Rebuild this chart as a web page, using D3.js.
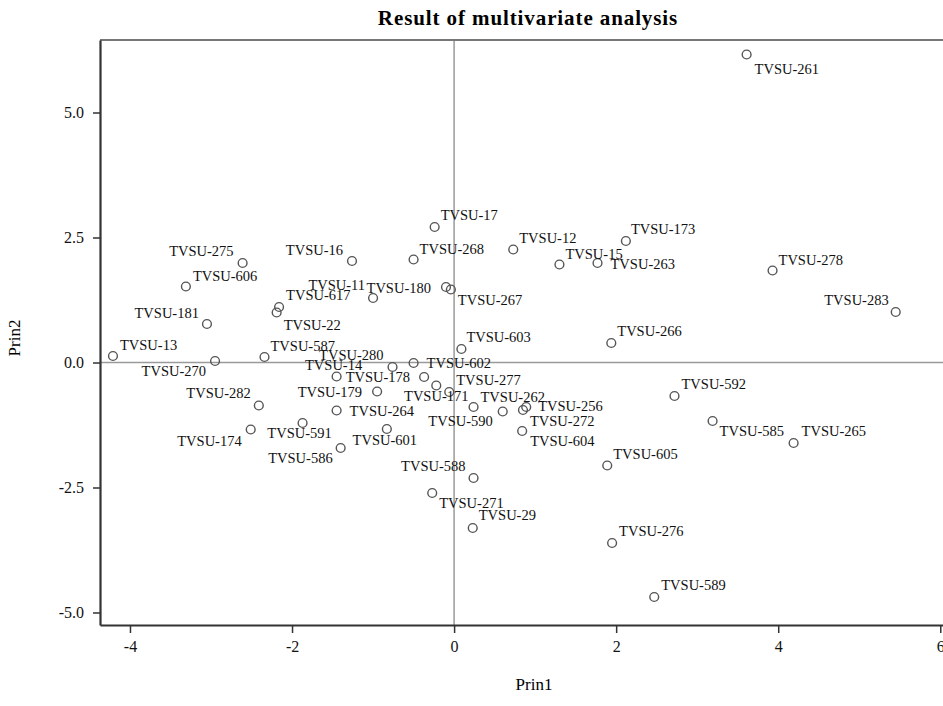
<!DOCTYPE html>
<html>
<head>
<meta charset="utf-8">
<script src="https://cdn.jsdelivr.net/npm/d3@7"></script>
<style>
  body { margin: 0; background: #fff; }
  text { font-family: "Liberation Serif", "Times New Roman", serif; }
</style>
</head>
<body>
<svg id="chart" width="943" height="706"></svg>
<script>
// scores
var names = ["TVSU-261", "TVSU-17", "TVSU-12", "TVSU-173", "TVSU-275", "TVSU-16", "TVSU-268", "TVSU-15",
  "TVSU-263", "TVSU-278", "TVSU-606", "TVSU-11", "TVSU-180", "TVSU-617", "TVSU-267", "TVSU-283",
  "TVSU-181", "TVSU-22", "TVSU-603", "TVSU-266", "TVSU-13", "TVSU-587", "TVSU-270", "TVSU-280",
  "TVSU-14", "TVSU-602", "TVSU-178", "TVSU-179", "TVSU-277", "TVSU-171", "TVSU-590", "TVSU-262",
  "TVSU-256", "TVSU-272", "TVSU-604", "TVSU-264", "TVSU-601", "TVSU-586", "TVSU-591", "TVSU-282",
  "TVSU-174", "TVSU-588", "TVSU-271", "TVSU-29", "TVSU-605", "TVSU-276", "TVSU-589", "TVSU-592",
  "TVSU-585", "TVSU-265"];
var prin1 = [3.61, -0.24, 0.73, 2.12, -2.61, -1.26, -0.50, 1.30,
  1.77, 3.93, -3.31, -1.00, -0.10, -2.16, -0.04, 5.45,
  -3.05, -2.19, 0.09, 1.94, -4.21, -2.34, -2.95, -0.76,
  -1.45, -0.50, -0.37, -0.95, -0.06, -0.22, 0.24, 0.60,
  0.89, 0.85, 0.84, -1.45, -0.83, -1.40, -1.87, -2.41,
  -2.51, 0.24, -0.27, 0.23, 1.89, 1.95, 2.47, 2.72,
  3.19, 4.19];
var prin2 = [6.16, 2.71, 2.26, 2.43, 1.99, 2.03, 2.06, 1.96,
  1.99, 1.84, 1.52, 1.29, 1.51, 1.11, 1.46, 1.01,
  0.77, 1.00, 0.27, 0.39, 0.13, 0.11, 0.03, -0.09,
  -0.28, -0.01, -0.29, -0.58, -0.59, -0.46, -0.89, -0.98,
  -0.89, -0.95, -1.37, -0.96, -1.33, -1.71, -1.21, -0.86,
  -1.34, -2.31, -2.61, -3.31, -2.06, -3.61, -4.69, -0.67,
  -1.17, -1.61];

var xTicks = [-4, -2, 0, 2, 4, 6];
var xTickLabels = ["-4", "-2", "0", "2", "4", "6"];
var yTicks = [-5, -2.5, 0, 2.5, 5];
var yTickLabels = ["-5.0", "-2.5", "0.0", "2.5", "5.0"];

// where each label sits round its point: anchor, dx, dy
var labelPos = {
  "TVSU-261": ["start", 8, 14], "TVSU-17": ["start", 6, -12], "TVSU-12": ["start", 6, -12],
  "TVSU-173": ["start", 5, -12], "TVSU-275": ["end", -9, -12], "TVSU-16": ["end", -9, -11],
  "TVSU-268": ["start", 6, -11], "TVSU-15": ["start", 6, -11], "TVSU-263": ["start", 13, 1],
  "TVSU-278": ["start", 6, -11], "TVSU-606": ["start", 7, -11], "TVSU-11": ["end", -8, -13],
  "TVSU-180": ["end", -15, 1], "TVSU-617": ["start", 7, -12], "TVSU-267": ["start", 7, 10],
  "TVSU-283": ["end", -7, -12], "TVSU-181": ["end", -8, -11], "TVSU-22": ["start", 7, 12],
  "TVSU-603": ["start", 5, -12], "TVSU-266": ["start", 6, -12], "TVSU-13": ["start", 7, -11],
  "TVSU-587": ["start", 6, -11], "TVSU-270": ["end", -9, 10], "TVSU-280": ["end", -9, -12],
  "TVSU-14": ["middle", -3, -12], "TVSU-602": ["start", 13, 0], "TVSU-178": ["end", -14, 0],
  "TVSU-179": ["end", -15, 0], "TVSU-277": ["start", 7, -12], "TVSU-171": ["middle", 0, 10],
  "TVSU-590": ["middle", -13, 14], "TVSU-262": ["middle", 10, -15], "TVSU-256": ["start", 12, -1],
  "TVSU-272": ["start", 7, 11], "TVSU-604": ["start", 8, 10], "TVSU-264": ["start", 13, 0],
  "TVSU-601": ["middle", -2, 11], "TVSU-586": ["end", -8, 10], "TVSU-591": ["middle", -3, 10],
  "TVSU-282": ["end", -8, -13], "TVSU-174": ["end", -9, 11], "TVSU-588": ["end", -8, -12],
  "TVSU-271": ["start", 7, 10], "TVSU-29": ["start", 6, -13], "TVSU-605": ["start", 6, -12],
  "TVSU-276": ["start", 7, -12], "TVSU-589": ["start", 7, -12], "TVSU-592": ["start", 7, -12],
  "TVSU-585": ["start", 7, 10], "TVSU-265": ["start", 8, -12]
};

var svg = d3.select("#chart");
var pLeft = 100, pRight = 950, pTop = 40, pBottom = 625;

var x = d3.scaleLinear().domain([-4.37, 6.12]).range([pLeft, pRight]);
var y = d3.scaleLinear().domain([-5.25, 6.45]).range([pBottom, pTop]);

var rows = names.map(function(n, i) { return {name: n, p1: prin1[i], p2: prin2[i]}; });

svg.append("rect").attr("width", 943).attr("height", 706).attr("fill", "#fff");

// title
svg.append("text")
  .attr("x", 528).attr("y", 25)
  .attr("text-anchor", "middle")
  .style("font-size", "21px")
  .style("font-weight", "bold")
  .style("letter-spacing", "0.9px")
  .text("Result of multivariate analysis");

// reference lines at zero
svg.append("line").attr("x1", x(0)).attr("x2", x(0)).attr("y1", pTop).attr("y2", pBottom)
  .attr("stroke", "#9a9a9a").attr("stroke-width", 1.5);
svg.append("line").attr("x1", pLeft).attr("x2", pRight).attr("y1", y(0)).attr("y2", y(0))
  .attr("stroke", "#9a9a9a").attr("stroke-width", 1.5);

// frame
svg.append("line").attr("x1", pLeft).attr("x2", pRight).attr("y1", pTop).attr("y2", pTop)
  .attr("stroke", "#777").attr("stroke-width", 2);
svg.append("line").attr("x1", pRight).attr("x2", pRight).attr("y1", pTop).attr("y2", pBottom)
  .attr("stroke", "#777").attr("stroke-width", 2);

var xAxis = d3.axisBottom(x).tickValues(xTicks)
  .tickFormat(function(d, i) { return xTickLabels[i]; })
  .tickSizeInner(8).tickSizeOuter(0).tickPadding(8);
var yAxis = d3.axisLeft(y).tickValues(yTicks)
  .tickFormat(function(d, i) { return yTickLabels[i]; })
  .tickSizeInner(7).tickSizeOuter(0).tickPadding(9);

var gx = svg.append("g").attr("transform", "translate(0," + pBottom + ")").call(xAxis);
var gy = svg.append("g").attr("transform", "translate(" + pLeft + ",0)").call(yAxis);

[gx, gy].forEach(function(g) {
  g.select(".domain").attr("stroke", "#333").attr("stroke-width", 2.2);
  g.selectAll(".tick line").attr("stroke", "#333").attr("stroke-width", 1.5);
  g.selectAll(".tick text").attr("fill", "#111")
    .style("font-family", "'Liberation Serif', serif").style("font-size", "16px");
});

// axis titles
svg.append("text").attr("x", 534).attr("y", 690).attr("text-anchor", "middle")
  .style("font-size", "17px").text("Prin1");
svg.append("text").attr("transform", "translate(20," + 338 + ") rotate(-90)")
  .attr("text-anchor", "middle").style("font-size", "17px").text("Prin2");

// points
var pts = svg.append("g").attr("id", "points");
pts.selectAll("circle")
  .data(rows)
  .enter()
  .append("circle")
  .attr("cx", function(d) { return x(d.p1); })
  .attr("cy", function(d) { return y(d.p2); })
  .attr("r", 4.4)
  .attr("fill", "none")
  .attr("stroke", "#555")
  .attr("stroke-width", 1.4);

// point labels
var labs = svg.append("g").attr("id", "labels");
labs.selectAll("text")
  .data(rows)
  .enter()
  .append("text")
  .attr("x", function(d) { return x(d.p1) + labelPos[d.name][1]; })
  .attr("y", function(d) { return y(d.p2) + labelPos[d.name][2]; })
  .attr("text-anchor", function(d) { return labelPos[d.name][0]; })
  .attr("dominant-baseline", "central")
  .style("font-size", "14.5px")
  .attr("fill", "#111")
  .text(function(d) { return d.name; });
</script>
</body>
</html>
